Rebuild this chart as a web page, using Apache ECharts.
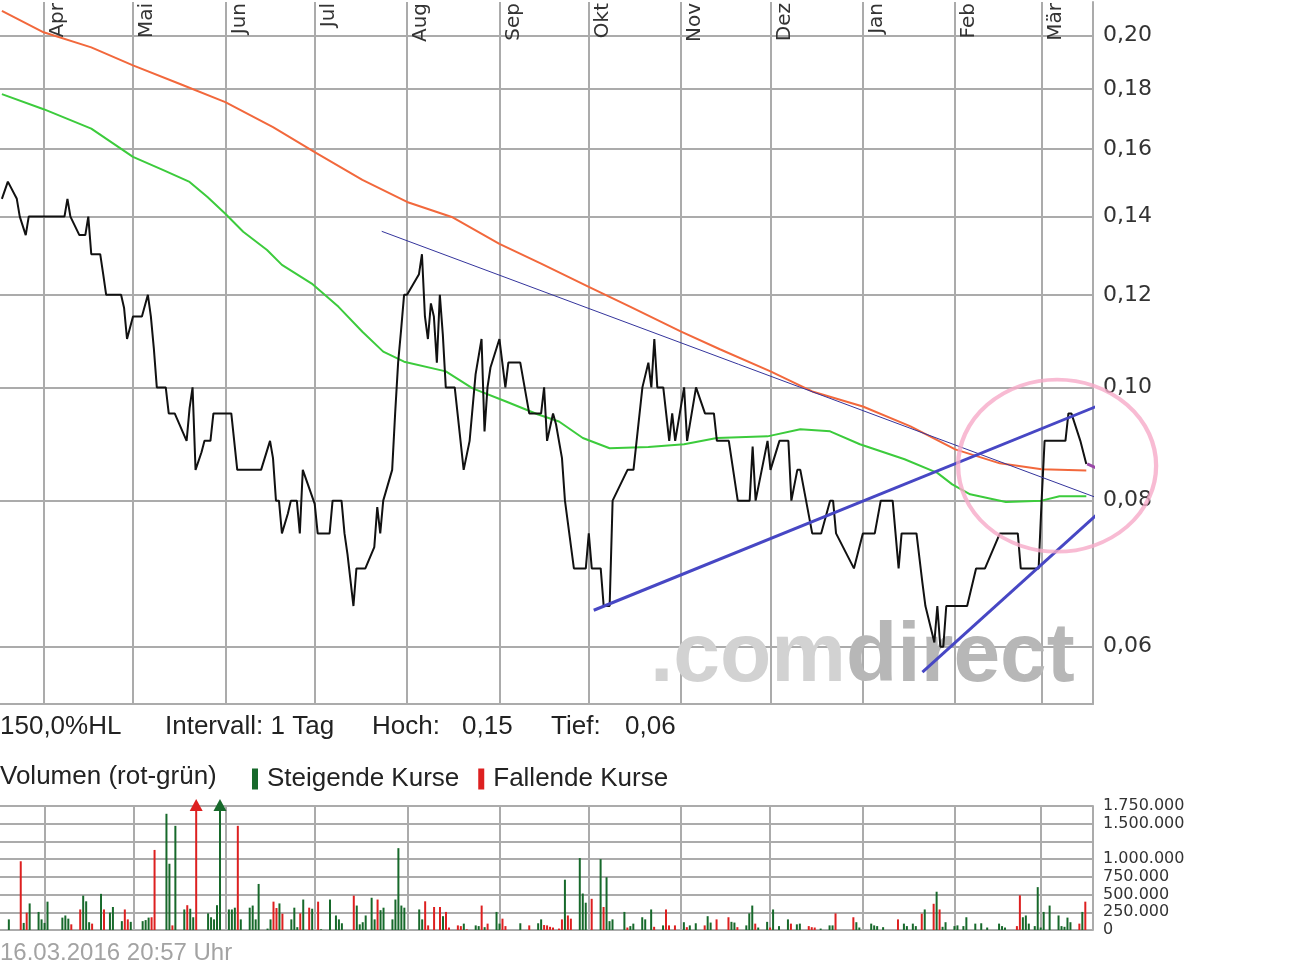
<!DOCTYPE html>
<html><head><meta charset="utf-8">
<script src="https://cdn.jsdelivr.net/npm/echarts@6/dist/echarts.min.js"></script>
<style>html,body{margin:0;padding:0;background:#fff}#c{width:1290px;height:966px}</style>
</head><body><div id="c"></div>
<script>
// ---------- data ----------
const monthNames = ['Jan','Feb','Mär','Apr','Mai','Jun','Jul','Aug','Sep','Okt','Nov','Dez'];
const priceTicks = [0.06, 0.08, 0.10, 0.12, 0.14, 0.16, 0.18, 0.20];
const volumeHiddenTicks = [1250000];
const infoTexts = ['150,0%HL', 'Intervall: 1 Tag', 'Hoch:', '0,15', 'Tief:', '0,06'];
const volumeTitle = 'Volumen (rot-grün)';
const seriesNames = ['Steigende Kurse', 'Fallende Kurse'];
const footerText = '16.03.2016 20:57 Uhr';

const priceData = [
['2015-03-18',0.145],['2015-03-20',0.15],['2015-03-23',0.145],['2015-03-24',0.14],['2015-03-26',0.135],['2015-03-27',0.14],
['2015-04-08',0.14],['2015-04-09',0.145],['2015-04-10',0.14],['2015-04-13',0.135],['2015-04-15',0.135],['2015-04-16',0.14],
['2015-04-17',0.13],['2015-04-20',0.13],['2015-04-21',0.125],['2015-04-22',0.12],['2015-04-27',0.12],['2015-04-28',0.117],
['2015-04-29',0.11],['2015-05-01',0.115],['2015-05-04',0.115],['2015-05-06',0.12],['2015-05-07',0.115],['2015-05-08',0.108],
['2015-05-09',0.10],['2015-05-12',0.10],['2015-05-13',0.095],['2015-05-15',0.095],['2015-05-19',0.09],['2015-05-20',0.096],
['2015-05-21',0.10],['2015-05-22',0.085],['2015-05-24',0.088],['2015-05-25',0.09],['2015-05-27',0.09],['2015-05-28',0.095],
['2015-06-03',0.095],['2015-06-05',0.085],['2015-06-13',0.085],['2015-06-16',0.09],['2015-06-17',0.087],['2015-06-18',0.08],
['2015-06-19',0.08],['2015-06-20',0.075],['2015-06-22',0.078],['2015-06-23',0.08],['2015-06-25',0.08],['2015-06-26',0.075],
['2015-06-27',0.085],['2015-07-01',0.0795],['2015-07-02',0.075],['2015-07-06',0.075],['2015-07-07',0.08],['2015-07-10',0.08],
['2015-07-11',0.075],['2015-07-12',0.072],['2015-07-14',0.065],['2015-07-15',0.07],['2015-07-18',0.07],['2015-07-21',0.073],
['2015-07-22',0.079],['2015-07-23',0.075],['2015-07-24',0.08],['2015-07-27',0.085],['2015-07-28',0.095],['2015-07-29',0.105],
['2015-07-30',0.112],['2015-07-31',0.12],['2015-08-01',0.12],['2015-08-05',0.125],['2015-08-06',0.13],['2015-08-07',0.115],
['2015-08-08',0.11],['2015-08-09',0.118],['2015-08-10',0.115],['2015-08-11',0.105],['2015-08-12',0.12],['2015-08-13',0.111],
['2015-08-14',0.10],['2015-08-17',0.10],['2015-08-20',0.085],['2015-08-22',0.09],['2015-08-24',0.1026],['2015-08-26',0.11],
['2015-08-27',0.0917],['2015-08-28',0.10],['2015-08-29',0.104],['2015-09-01',0.11],['2015-09-03',0.10],['2015-09-04',0.105],
['2015-09-08',0.105],['2015-09-11',0.095],['2015-09-15',0.095],['2015-09-16',0.10],['2015-09-17',0.09],['2015-09-19',0.095],
['2015-09-20',0.093],['2015-09-22',0.087],['2015-09-23',0.08],['2015-09-26',0.07],['2015-09-30',0.07],['2015-10-01',0.075],
['2015-10-02',0.07],['2015-10-05',0.07],['2015-10-06',0.065],['2015-10-08',0.065],['2015-10-09',0.08],['2015-10-14',0.085],
['2015-10-16',0.085],['2015-10-19',0.10],['2015-10-21',0.105],['2015-10-22',0.10],['2015-10-23',0.11],['2015-10-24',0.10],
['2015-10-26',0.10],['2015-10-28',0.09],['2015-10-29',0.095],['2015-10-30',0.09],['2015-11-02',0.10],['2015-11-03',0.09],
['2015-11-06',0.10],['2015-11-09',0.095],['2015-11-12',0.095],['2015-11-13',0.09],['2015-11-17',0.09],['2015-11-20',0.08],
['2015-11-24',0.08],['2015-11-25',0.089],['2015-11-26',0.08],['2015-11-30',0.09],['2015-12-01',0.085],['2015-12-04',0.09],
['2015-12-07',0.09],['2015-12-08',0.08],['2015-12-10',0.085],['2015-12-11',0.085],['2015-12-15',0.075],['2015-12-18',0.075],
['2015-12-21',0.08],['2015-12-22',0.08],['2015-12-23',0.075],['2015-12-29',0.07],['2016-01-01',0.075],['2016-01-05',0.075],
['2016-01-07',0.08],['2016-01-11',0.08],['2016-01-13',0.07],['2016-01-14',0.075],['2016-01-19',0.075],['2016-01-21',0.068],
['2016-01-22',0.065],['2016-01-25',0.0605],['2016-01-26',0.065],['2016-01-27',0.06],['2016-01-28',0.06],['2016-01-29',0.065],
['2016-02-05',0.065],['2016-02-08',0.07],['2016-02-11',0.07],['2016-02-16',0.075],['2016-02-22',0.075],['2016-02-23',0.07],
['2016-02-29',0.07],['2016-03-01',0.08],['2016-03-02',0.09],['2016-03-09',0.09],['2016-03-10',0.095],['2016-03-11',0.095],
['2016-03-14',0.09],['2016-03-16',0.086]
];

const maLongData = [
['2015-03-18',0.210],['2015-04-01',0.2013],['2015-04-17',0.1954],['2015-05-01',0.1886],['2015-05-17',0.1817],
['2015-06-01',0.1754],['2015-06-17',0.167],['2015-07-01',0.159],['2015-07-17',0.1505],['2015-08-01',0.1441],
['2015-08-16',0.1399],['2015-09-01',0.1327],['2015-09-15',0.1276],['2015-10-01',0.1219],['2015-10-15',0.1172],
['2015-11-01',0.1116],['2015-11-14',0.1078],['2015-12-01',0.1032],['2015-12-15',0.0992],['2016-01-01',0.0963],
['2016-01-17',0.0926],['2016-02-01',0.0885],['2016-02-16',0.0861],['2016-03-01',0.0851],['2016-03-16',0.0849]
];

const maShortData = [
['2015-03-18',0.1782],['2015-04-01',0.173],['2015-04-17',0.1665],['2015-05-01',0.1575],['2015-05-11',0.1535],
['2015-05-20',0.1499],['2015-05-26',0.1455],['2015-06-01',0.1408],['2015-06-07',0.1359],['2015-06-15',0.1311],
['2015-06-20',0.1273],['2015-06-30',0.1227],['2015-07-09',0.1172],['2015-07-17',0.1116],['2015-07-24',0.1073],
['2015-07-31',0.1052],['2015-08-14',0.1032],['2015-08-23',0.0998],['2015-09-03',0.0973],['2015-09-14',0.0948],
['2015-09-21',0.0935],['2015-09-29',0.0905],['2015-10-08',0.0887],['2015-10-21',0.0889],['2015-11-02',0.0894],
['2015-11-13',0.0905],['2015-11-30',0.0908],['2015-12-11',0.0921],['2015-12-21',0.0917],['2015-12-31',0.0894],
['2016-01-15',0.0868],['2016-01-26',0.0845],['2016-01-31',0.0826],['2016-02-06',0.081],['2016-02-18',0.0798],
['2016-03-01',0.080],['2016-03-07',0.0807],['2016-03-16',0.0807]
];

const volumeUp = [
['2015-03-20',150000],['2015-03-25',100000],['2015-03-27',375000],['2015-03-30',255000],['2015-03-31',150000],
['2015-04-01',100000],['2015-04-02',400000],['2015-04-07',175000],['2015-04-08',205000],['2015-04-09',160000],
['2015-04-14',485000],['2015-04-15',405000],['2015-04-16',110000],['2015-04-20',510000],['2015-04-23',245000],
['2015-04-24',325000],['2015-04-27',125000],['2015-04-30',115000],['2015-05-04',125000],['2015-05-05',140000],
['2015-05-06',175000],['2015-05-12',1640000],['2015-05-13',935000],['2015-05-15',1470000],['2015-05-18',290000],
['2015-05-20',300000],['2015-05-21',180000],['2015-05-26',235000],['2015-05-27',180000],['2015-05-28',150000],
['2015-05-29',350000],['2015-05-30',2400000],['2015-06-02',290000],['2015-06-03',290000],['2015-06-04',315000],
['2015-06-06',150000],['2015-06-09',315000],['2015-06-10',345000],['2015-06-11',150000],['2015-06-12',650000],
['2015-06-15',20000],['2015-06-16',150000],['2015-06-19',375000],['2015-06-23',150000],['2015-06-24',315000],
['2015-06-25',40000],['2015-06-27',430000],['2015-06-30',300000],['2015-07-03',10000],['2015-07-06',430000],
['2015-07-08',205000],['2015-07-09',150000],['2015-07-10',95000],['2015-07-15',345000],['2015-07-16',80000],
['2015-07-17',110000],['2015-07-18',205000],['2015-07-20',455000],['2015-07-21',150000],['2015-07-23',280000],
['2015-07-24',315000],['2015-07-27',150000],['2015-07-28',430000],['2015-07-29',1155000],['2015-07-30',345000],
['2015-07-31',315000],['2015-08-05',290000],['2015-08-06',150000],['2015-08-13',195000],['2015-08-20',90000],
['2015-08-24',65000],['2015-08-25',55000],['2015-08-27',40000],['2015-08-31',255000],['2015-09-01',90000],
['2015-09-08',95000],['2015-09-14',95000],['2015-09-15',150000],['2015-09-23',710000],['2015-09-28',1015000],
['2015-09-29',515000],['2015-09-30',385000],['2015-10-05',1000000],['2015-10-07',745000],['2015-10-08',125000],
['2015-10-09',150000],['2015-10-13',255000],['2015-10-15',55000],['2015-10-16',90000],['2015-10-19',180000],
['2015-10-20',150000],['2015-10-22',290000],['2015-10-26',65000],['2015-11-02',110000],['2015-11-04',65000],
['2015-11-06',95000],['2015-11-10',195000],['2015-11-11',105000],['2015-11-18',115000],['2015-11-19',105000],
['2015-11-23',65000],['2015-11-24',235000],['2015-11-25',345000],['2015-11-27',35000],['2015-11-30',115000],
['2015-12-02',290000],['2015-12-04',55000],['2015-12-07',150000],['2015-12-10',80000],['2015-12-11',90000],
['2015-12-18',20000],['2015-12-21',65000],['2015-12-22',65000],['2015-12-30',110000],['2015-12-31',35000],
['2016-01-04',90000],['2016-01-05',65000],['2016-01-06',55000],['2016-01-08',40000],['2016-01-15',90000],
['2016-01-16',55000],['2016-01-18',90000],['2016-01-19',55000],['2016-01-22',290000],['2016-01-26',540000],
['2016-01-28',45000],['2016-01-29',110000],['2016-02-01',55000],['2016-02-02',65000],['2016-02-04',55000],
['2016-02-05',180000],['2016-02-08',90000],['2016-02-10',95000],['2016-02-12',35000],['2016-02-16',90000],
['2016-02-17',55000],['2016-02-18',35000],['2016-02-24',180000],['2016-02-25',205000],['2016-02-26',90000],
['2016-02-28',55000],['2016-02-29',605000],['2016-03-01',35000],['2016-03-02',255000],['2016-03-04',345000],
['2016-03-07',205000],['2016-03-08',55000],['2016-03-09',45000],['2016-03-10',175000],['2016-03-11',110000],
['2016-03-15',255000]
];

const volumeDown = [
['2015-03-24',970000],['2015-03-26',245000],['2015-04-10',80000],['2015-04-13',290000],['2015-04-17',90000],
['2015-04-21',290000],['2015-04-28',290000],['2015-04-29',150000],['2015-05-07',180000],['2015-05-08',1130000],
['2015-05-14',65000],['2015-05-19',350000],['2015-05-22',2400000],['2015-06-05',1470000],['2015-06-17',400000],
['2015-06-18',310000],['2015-06-20',230000],['2015-06-26',235000],['2015-06-29',315000],['2015-07-02',400000],
['2015-07-14',485000],['2015-07-22',430000],['2015-08-07',405000],['2015-08-08',65000],['2015-08-10',325000],
['2015-08-12',325000],['2015-08-14',255000],['2015-08-15',35000],['2015-08-18',65000],['2015-08-19',55000],
['2015-08-21',10000],['2015-08-26',345000],['2015-08-28',90000],['2015-09-02',160000],['2015-09-03',55000],
['2015-09-11',65000],['2015-09-16',70000],['2015-09-17',65000],['2015-09-18',45000],['2015-09-19',35000],
['2015-09-21',20000],['2015-09-22',150000],['2015-09-24',205000],['2015-09-25',160000],['2015-10-02',440000],
['2015-10-06',325000],['2015-10-14',35000],['2015-10-23',45000],['2015-10-27',290000],['2015-10-28',65000],
['2015-10-30',65000],['2015-11-03',40000],['2015-11-09',65000],['2015-11-13',150000],['2015-11-17',180000],
['2015-11-20',40000],['2015-11-26',90000],['2015-12-01',35000],['2015-12-08',90000],['2015-12-14',55000],
['2015-12-15',40000],['2015-12-16',35000],['2015-12-23',235000],['2015-12-29',180000],['2016-01-13',150000],
['2016-01-21',230000],['2016-01-25',370000],['2016-01-27',290000],['2016-02-22',55000],['2016-02-23',490000],
['2016-03-14',90000],['2016-03-16',400000]
];

// hand-drawn annotations (in data coordinates)
const trendThin = [['2015-07-23 12:00',0.1360],['2016-04-29 16:00',0.07353]];
const trendUpper = [['2015-10-02 16:00',0.06446],['2016-04-05 10:00',0.1003]];
const trendLower = [['2016-01-21',0.05707],['2016-04-16',0.0900]];
const circleCenter = [['2016-03-06 05:00',0.0857]];
const arrowPath = [
['2016-03-16 07:00',0.0860],['2016-03-28 10:00',0.0834],['2016-04-02 10:00',0.0811],['2016-04-03 10:00',0.0864],
['2016-04-04 17:00',0.0891],['2016-04-07 02:00',0.0909],['2016-04-09 19:00',0.0946],['2016-04-10 19:00',0.0985],
['2016-04-12 12:00',0.1035],['2016-04-13 02:00',0.1064],['2016-04-15 12:00',0.1094],['2016-04-19 05:00',0.1133],
['2016-04-22 12:00',0.1155],['2016-04-23 22:00',0.1197],['2016-04-26 14:00',0.1242],['2016-04-29 05:00',0.1300],
['2016-05-02 07:00',0.1360],['2016-05-04 07:00',0.1415],['2016-05-06 00:00',0.1460],['2016-05-09 00:00',0.1500]
];
const arrowHead = [
['2016-04-27 14:00',0.1443],['2016-05-02 07:00',0.1480],['2016-05-09 00:00',0.1509],['2016-05-11 17:00',0.1468],
['2016-05-13 07:00',0.1395],['2016-05-07 14:00',0.1415],['2016-05-05 00:00',0.1428],['2016-04-27 14:00',0.1443]
];

// ---------- axis ranges ----------
const X_MIN = '2015-03-17 08:40';
const X_MAX = '2016-03-18 06:00';
const PRICE_MIN = 0.05359;
const PRICE_MAX = 0.21368;
const VOL_MAX = 1750000;

const LN = v => Math.log(v);
const toLn = arr => arr.map(d => [d[0], LN(d[1])]);
const priceFmt = v => Math.exp(v).toFixed(2).replace('.', ',');
const volFmt = v => volumeHiddenTicks.includes(v) ? '' : String(v).replace(/\B(?=(\d{3})+(?!\d))/g, '.');
const monthFmt = v => monthNames[new Date(v).getMonth()];

const GRID_COLOR = '#ababab';
const DAY = 86400000;
const TEXT_FONT = '"Liberation Sans", Arial, sans-serif';

const annot = (data, color, width, z) => ({
  type: 'line', xAxisIndex: 0, yAxisIndex: 0, data: toLn(data), clip: false,
  showSymbol: false, symbol: 'none', silent: true, z: z || 5,
  lineStyle: { color, width }
});

const clippedMarks = (arr, color) => ({
  symbol: 'triangle', symbolSize: [13, 12], symbolOffset: [0, -1], silent: true,
  itemStyle: { color }, label: { show: false },
  data: arr.filter(d => d[1] > VOL_MAX).map(d => ({ coord: [d[0], VOL_MAX] }))
});

const infoText = (text, x, y, color, size) => ({
  type: 'text', x, y, silent: true,
  style: { text, fill: color || '#222', fontSize: size || 26, fontFamily: TEXT_FONT, verticalAlign: 'middle' }
});

const option = {
  animation: false,
  backgroundColor: '#fff',
  grid: [
    { left: 0, right: 197, top: 0, bottom: 262 },
    { left: 0, right: 197, top: 806, bottom: 36 }
  ],
  legend: {
    data: seriesNames, left: 252, top: 766, padding: 0, icon: 'rect', itemWidth: 6, itemHeight: 21, itemGap: 19,
    selectedMode: false,
    textStyle: { fontSize: 26, fontFamily: TEXT_FONT, color: '#222', padding: [0, 0, 0, 4] }
  },
  xAxis: [
    { type: 'time', gridIndex: 0, min: X_MIN, max: X_MAX, position: 'top', splitNumber: 12,
      minInterval: 28 * DAY, maxInterval: 31 * DAY,
      axisLine: { show: false }, axisTick: { show: false },
      axisLabel: { inside: true, rotate: -90, margin: 1, fontSize: 20, fontFamily: '"DejaVu Sans", sans-serif',
        color: '#333', verticalAlign: 'top', lineHeight: 28, formatter: monthFmt, showMinLabel: false, showMaxLabel: false },
      splitLine: { show: true, showMinLine: false, showMaxLine: false, lineStyle: { color: GRID_COLOR, width: 2 } } },
    { type: 'time', gridIndex: 0, min: X_MIN, max: X_MAX, position: 'bottom',
      axisLine: { show: true, lineStyle: { color: GRID_COLOR, width: 2 } },
      axisTick: { show: false }, axisLabel: { show: false }, splitLine: { show: false } },
    { type: 'time', gridIndex: 1, min: X_MIN, max: X_MAX, splitNumber: 12,
      minInterval: 28 * DAY, maxInterval: 31 * DAY,
      axisLine: { show: false }, axisTick: { show: false }, axisLabel: { show: false },
      splitLine: { show: true, showMinLine: false, showMaxLine: false, lineStyle: { color: GRID_COLOR, width: 2 } } }
  ],
  yAxis: [
    { type: 'value', gridIndex: 0, position: 'right', min: LN(PRICE_MIN), max: LN(PRICE_MAX),
      axisLine: { show: true, lineStyle: { color: GRID_COLOR, width: 2 } },
      axisTick: { show: false, customValues: priceTicks.map(LN) },
      axisLabel: { customValues: priceTicks.map(LN), formatter: priceFmt, margin: 10, fontSize: 22,
        fontFamily: '"DejaVu Sans", sans-serif', color: '#333', padding: [0, 0, 12, 0] },
      splitLine: { show: true, lineStyle: { color: GRID_COLOR, width: 2 } } },
    { type: 'value', gridIndex: 1, position: 'right', min: 0, max: VOL_MAX, interval: 250000,
      axisLine: { show: true, lineStyle: { color: GRID_COLOR, width: 2 } },
      axisTick: { show: false },
      axisLabel: { formatter: volFmt, margin: 10, fontSize: 16, fontFamily: '"DejaVu Sans", sans-serif', color: '#333' },
      splitLine: { show: true, lineStyle: { color: GRID_COLOR, width: 2 } } }
  ],
  graphic: [
    { type: 'text', x: 650, y: 658, z: 1, silent: true, style: {
        text: '{a|.com}{b|direct}', verticalAlign: 'middle',
        rich: {
          a: { fill: '#d2d2d2', fontSize: 84, fontWeight: 'bold', fontFamily: TEXT_FONT },
          b: { fill: '#b7b7b7', fontSize: 84, fontWeight: 'bold', fontFamily: TEXT_FONT }
        } } },
    infoText(infoTexts[0], 0, 727),
    infoText(infoTexts[1], 165, 727),
    infoText(infoTexts[2], 372, 727),
    infoText(infoTexts[3], 462, 727),
    infoText(infoTexts[4], 551, 727),
    infoText(infoTexts[5], 625, 727),
    infoText(volumeTitle, 0, 777),
    infoText(footerText, 0, 953, '#a3a3a3', 24)
  ],
  series: [
    { type: 'line', name: 'MA lang', xAxisIndex: 0, yAxisIndex: 0, data: toLn(maLongData), showSymbol: false, symbol: 'none',
      silent: true, z: 3, lineStyle: { color: '#f2683c', width: 2 } },
    { type: 'line', name: 'MA kurz', xAxisIndex: 0, yAxisIndex: 0, data: toLn(maShortData), showSymbol: false, symbol: 'none',
      silent: true, z: 3, lineStyle: { color: '#3ccb3c', width: 2 } },
    { type: 'line', name: 'Kurs', xAxisIndex: 0, yAxisIndex: 0, data: toLn(priceData), showSymbol: false, symbol: 'none',
      silent: true, z: 4, lineStyle: { color: '#111', width: 2 } },
    annot(trendThin, '#34349c', 1),
    annot(trendUpper, '#4747c4', 3),
    annot(trendLower, '#4747c4', 3),
    { type: 'scatter', xAxisIndex: 0, yAxisIndex: 0, data: toLn(circleCenter), clip: false, silent: true, z: 6,
      symbol: 'path://M0,50 A50,50 0 1,1 100,50 A50,50 0 1,1 0,50 Z', symbolSize: [198, 172],
      itemStyle: { color: 'rgba(0,0,0,0)', borderColor: '#f6aac8', borderWidth: 4 } },
    annot(arrowPath, '#9a47a8', 3, 7),
    annot(arrowHead, '#9a47a8', 3, 7),
    { type: 'bar', name: seriesNames[0], xAxisIndex: 2, yAxisIndex: 1, data: volumeUp, barWidth: 2, silent: true,
      itemStyle: { color: '#17692b' }, markPoint: clippedMarks(volumeUp, '#17692b') },
    { type: 'bar', name: seriesNames[1], xAxisIndex: 2, yAxisIndex: 1, data: volumeDown, barWidth: 2, barGap: '-100%', silent: true,
      itemStyle: { color: '#dd2020' }, markPoint: clippedMarks(volumeDown, '#dd2020') }
  ]
};

const chart = echarts.init(document.getElementById('c'), null, { renderer: 'canvas', width: 1290, height: 966 });
chart.setOption(option);
</script>
</body></html>
